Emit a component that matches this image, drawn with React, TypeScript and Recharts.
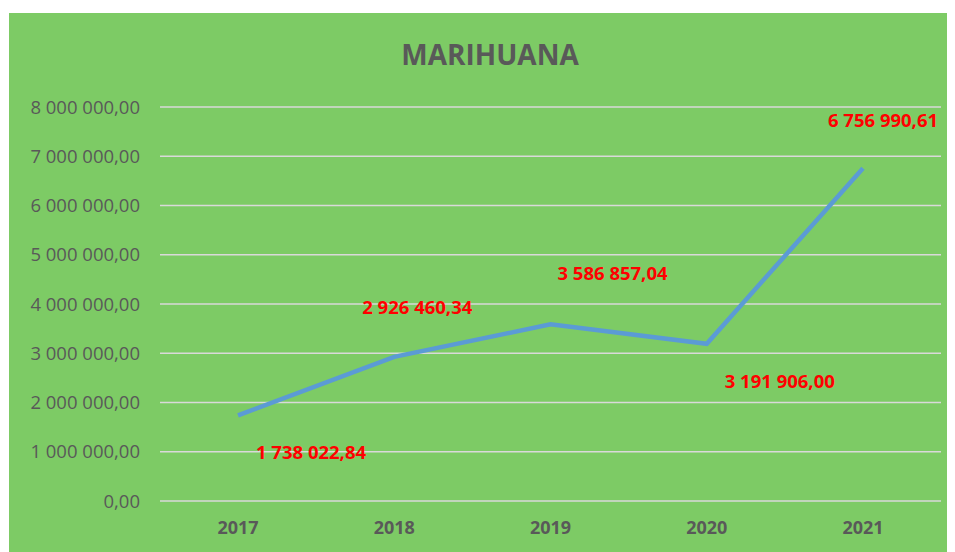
import React from "react";
import { LineChart, Line, XAxis, YAxis, CartesianGrid, LabelList } from "recharts";

const years = ["2017", "2018", "2019", "2020", "2021"];
const values = [1738022.84, 2926460.34, 3586857.04, 3191906.0, 6756990.61];
const yTicks = [0, 1000000, 2000000, 3000000, 4000000, 5000000, 6000000, 7000000, 8000000];
const title = "MARIHUANA";

const data = years.map((y, i) => ({ year: y, value: values[i] }));

const fmt = (v: number) => {
  const fixed = v.toFixed(2);
  const [int, dec] = fixed.split(".");
  const withSpaces = int.replace(/\B(?=(\d{3})+(?!\d))/g, " ");
  return `${withSpaces},${dec}`;
};

const labelOffsets = [
  { dx: 73, dy: 36 },
  { dx: 23, dy: -50 },
  { dx: 62, dy: -52 },
  { dx: 73, dy: 37 },
  { dx: 20, dy: -49 },
];

const FONT = "'Open Sans', 'Noto Sans', sans-serif";

const DataLabel = (props: any) => {
  const { x, y, index, value } = props;
  const o = labelOffsets[index] || { dx: 0, dy: 0 };
  return (
    <text
      x={x + o.dx}
      y={y + o.dy}
      textAnchor="middle"
      dominantBaseline="central"
      fill="#FF0000"
      fontWeight="bold"
      fontSize={18.5}
      fontFamily={FONT}
    >
      {fmt(value)}
    </text>
  );
};

export default function App() {
  return (
    <div style={{ position: "relative", marginTop: 5, marginLeft: 1, width: 941, height: 545, background: "#7DCB65" }}>
      <div
        style={{
          position: "absolute",
          left: 0,
          width: 962,
          top: 22,
          textAlign: "center",
          fontFamily: FONT,
          fontWeight: "bold",
          fontSize: 28,
          color: "#595959",
        }}
      >
        {title}
      </div>
      <LineChart width={941} height={545} data={data} margin={{ top: 94, right: 9, bottom: 27, left: 0 }}>
        <CartesianGrid vertical={false} stroke="#D9D9D9" strokeWidth={1.5} />
        <XAxis
          dataKey="year"
          axisLine={false}
          tickLine={false}
          height={30}
          tickMargin={14}
          padding={{ left: 78, right: 78 }}
          tick={{ fill: "#595959", fontSize: 18, fontWeight: "bold", fontFamily: FONT }}
        />
        <YAxis
          width={151}
          domain={[0, 8000000]}
          ticks={yTicks}
          axisLine={false}
          tickLine={false}
          tickMargin={14}
          tickFormatter={fmt}
          interval={0}
          tick={{ fill: "#595959", fontSize: 18.5, fontFamily: FONT }}
        />
        <Line
          type="linear"
          dataKey="value"
          stroke="#5B9BD5"
          strokeWidth={4.5}
          dot={false}
          isAnimationActive={false}
        >
          <LabelList dataKey="value" content={DataLabel} />
        </Line>
      </LineChart>
    </div>
  );
}
